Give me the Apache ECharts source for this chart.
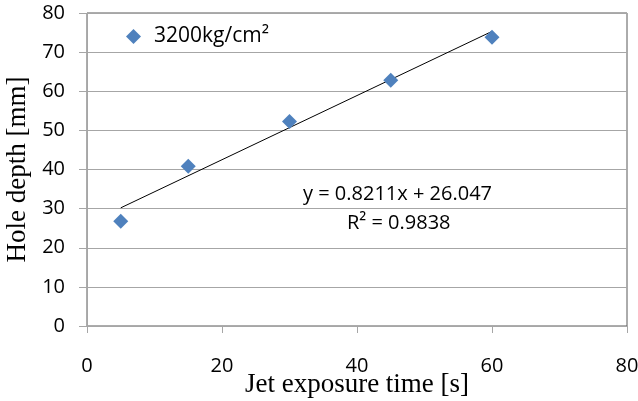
<!DOCTYPE html>
<html>
<head>
<meta charset="utf-8">
<script src="https://cdn.jsdelivr.net/npm/echarts@6/dist/echarts.min.js"></script>
<style>
  html, body { margin: 0; padding: 0; background: #fff; }
  #chart { width: 638px; height: 401px; }
</style>
</head>
<body>
<div id="chart"></div>
<script>
// measured points
var exposureTime = [5, 15, 30, 45, 60];
var holeDepth = [26.8, 40.8, 52.3, 62.8, 73.8];
// linear trend line end points, as drawn
var trendX = [5, 60];
var trendY = [30.2, 75.3];
var xTicks = [0, 20, 40, 60, 80];
var yTicks = [0, 10, 20, 30, 40, 50, 60, 70, 80];

var sans = "Open Sans";
var serif = "Liberation Serif";

var myChart = echarts.init(document.getElementById("chart"));

var option = {
  animation: false,
  backgroundColor: "#fff",
  grid: {
    left: 87,
    right: 11,
    top: 13,
    bottom: 75,
    outerBoundsMode: "none",
    containLabel: false,
    show: true,
    borderColor: "#595959",
    borderWidth: 1
  },
  legend: {
    data: ["3200kg/cm²"],
    left: 121,
    top: 21,
    icon: "diamond",
    itemWidth: 15,
    itemHeight: 15,
    textStyle: { fontFamily: sans, fontSize: 21, color: "#000", padding: [0, 0, 0, 8] }
  },
  xAxis: {
    type: "value",
    min: xTicks[0],
    max: xTicks[xTicks.length - 1],
    interval: 20,
    name: "Jet exposure time [s]",
    nameLocation: "middle",
    nameGap: 45,
    nameMoveOverlap: false,
    nameTextStyle: { fontFamily: serif, fontSize: 27, color: "#000" },
    axisLine: { show: true, lineStyle: { color: "#a6a6a6", width: 1 } },
    axisTick: { show: true, inside: false, length: 7, lineStyle: { color: "#a6a6a6" } },
    axisLabel: { margin: 30, fontFamily: sans, fontSize: 20, color: "#000" },
    splitLine: { show: false }
  },
  yAxis: {
    type: "value",
    min: yTicks[0],
    max: yTicks[yTicks.length - 1],
    interval: 10,
    name: "Hole depth [mm]",
    nameLocation: "middle",
    nameGap: 56,
    nameMoveOverlap: false,
    nameRotate: 90,
    nameTextStyle: { fontFamily: serif, fontSize: 27, color: "#000" },
    axisLine: { show: true, lineStyle: { color: "#a6a6a6", width: 1 } },
    axisTick: { show: true, inside: false, length: 8, lineStyle: { color: "#a6a6a6" } },
    axisLabel: { margin: 22, fontFamily: sans, fontSize: 20, color: "#000" },
    splitLine: { show: true, lineStyle: { color: "#a6a6a6", width: 1 } }
  },
  graphic: [
    {
      type: "text",
      left: 303,
      top: 184,
      style: { text: "y = 0.8211x + 26.047", font: "20px 'Open Sans'", fill: "#000" }
    },
    {
      type: "text",
      left: 347,
      top: 213,
      style: { text: "R² = 0.9838", font: "20px 'Open Sans'", fill: "#000" }
    }
  ],
  series: [
    {
      name: "trend",
      type: "line",
      data: trendX.map(function (x, i) { return [x, trendY[i]]; }),
      showSymbol: false,
      symbol: "none",
      lineStyle: { color: "#000", width: 1 },
      z: 1
    },
    {
      name: "3200kg/cm²",
      type: "scatter",
      symbol: "diamond",
      symbolSize: 15,
      itemStyle: { color: "#4f81bd", opacity: 1 },
      data: exposureTime.map(function (x, i) { return [x, holeDepth[i]]; }),
      z: 2
    }
  ]
};

myChart.setOption(option);
</script>
</body>
</html>
